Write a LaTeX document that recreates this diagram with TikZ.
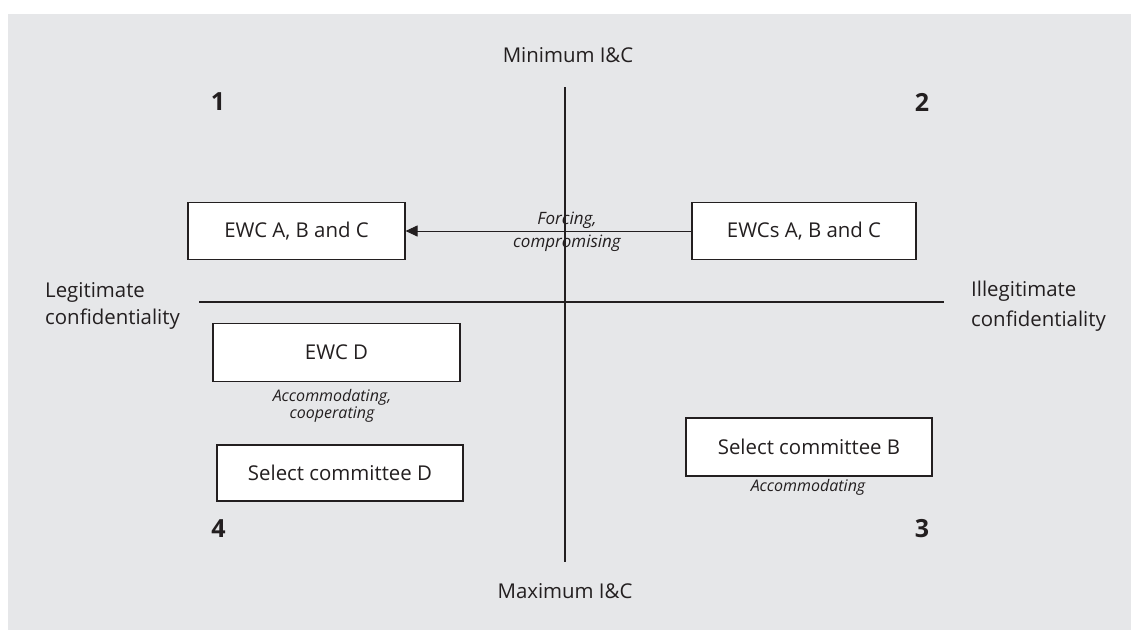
\documentclass[tikz,border=0pt]{standalone}
\usepackage{fontspec}
\setmainfont{Open Sans}
\usetikzlibrary{arrows.meta}
\definecolor{panel}{HTML}{E6E7E9}
\definecolor{ink}{HTML}{231F20}
\begin{document}
\begin{tikzpicture}[x=1pt,y=-1pt,
  box/.style={draw=ink, line width=1.1pt, fill=white, inner sep=0pt, text=ink, font=\fontsize{20.4}{22}\selectfont},
  axis/.style={draw=ink, line width=1.8pt},
  lbl/.style={text=ink, font=\fontsize{20.4}{24}\selectfont, align=center, inner sep=0pt},
  side/.style={text=ink, align=left, inner sep=0pt, anchor=west},
  note/.style={text=ink, font=\fontsize{16}{13.5}\selectfont\itshape, align=center, inner sep=0pt},
  num/.style={text=ink, font=\fontsize{25}{26}\selectfont\bfseries, inner sep=0pt}]
\useasboundingbox (0,0) rectangle (1131,630);
\fill[panel] (8,14) rectangle (1131,630);
% axes
\coordinate (vt) at (565,87);
\coordinate (vb) at (565,562);
\coordinate (hl) at (199,302);
\coordinate (hr) at (944,302);
\draw[axis] (vt) -- (vb);
\draw[axis] (hl) -- (hr);
% axis labels
\node[lbl] (minic) at (568,55) {Minimum I\&C};
\node[lbl] (maxic) at (565,591.5) {Maximum I\&C};
\node[side, font=\fontsize{20.4}{27}\selectfont] (legit) at (45,306) {Legitimate\\confidentiality};
\node[side, font=\fontsize{20.4}{30}\selectfont] (illegit) at (971,306) {Illegitimate\\confidentiality};
% quadrant numbers
\node[num] (q1) at (218,102) {1};
\node[num] (q2) at (922,102) {2};
\node[num] (q3) at (922,529) {3};
\node[num] (q4) at (218.5,529) {4};
% boxes
\node[box, minimum width=217pt, minimum height=57pt] (ewcabc) at (296.5,231) {EWC A, B and C};
\node[box, minimum width=224pt, minimum height=57pt] (ewcsabc) at (804,231) {EWCs A, B and C};
\node[box, minimum width=247pt, minimum height=58pt] (ewcd) at (336.5,352.5) {EWC D};
\node[box, minimum width=246pt, minimum height=56pt] (scd) at (340,473) {Select committee D};
\node[box, minimum width=246pt, minimum height=58pt] (scb) at (809,447) {Select committee B};
% arrow
\draw[draw=ink, line width=1pt, -{Triangle[length=12pt,width=11pt]}] (ewcsabc.west) -- (ewcabc.east);
% notes
\node[note, font=\fontsize{17}{23}\selectfont\itshape] (forcing) at (567,232) {Forcing,\\compromising};
\node[note] (accoop) at (332,406) {Accommodating,\\cooperating};
\node[note] (accb) at (808,487) {Accommodating};
\end{tikzpicture}
\end{document}
